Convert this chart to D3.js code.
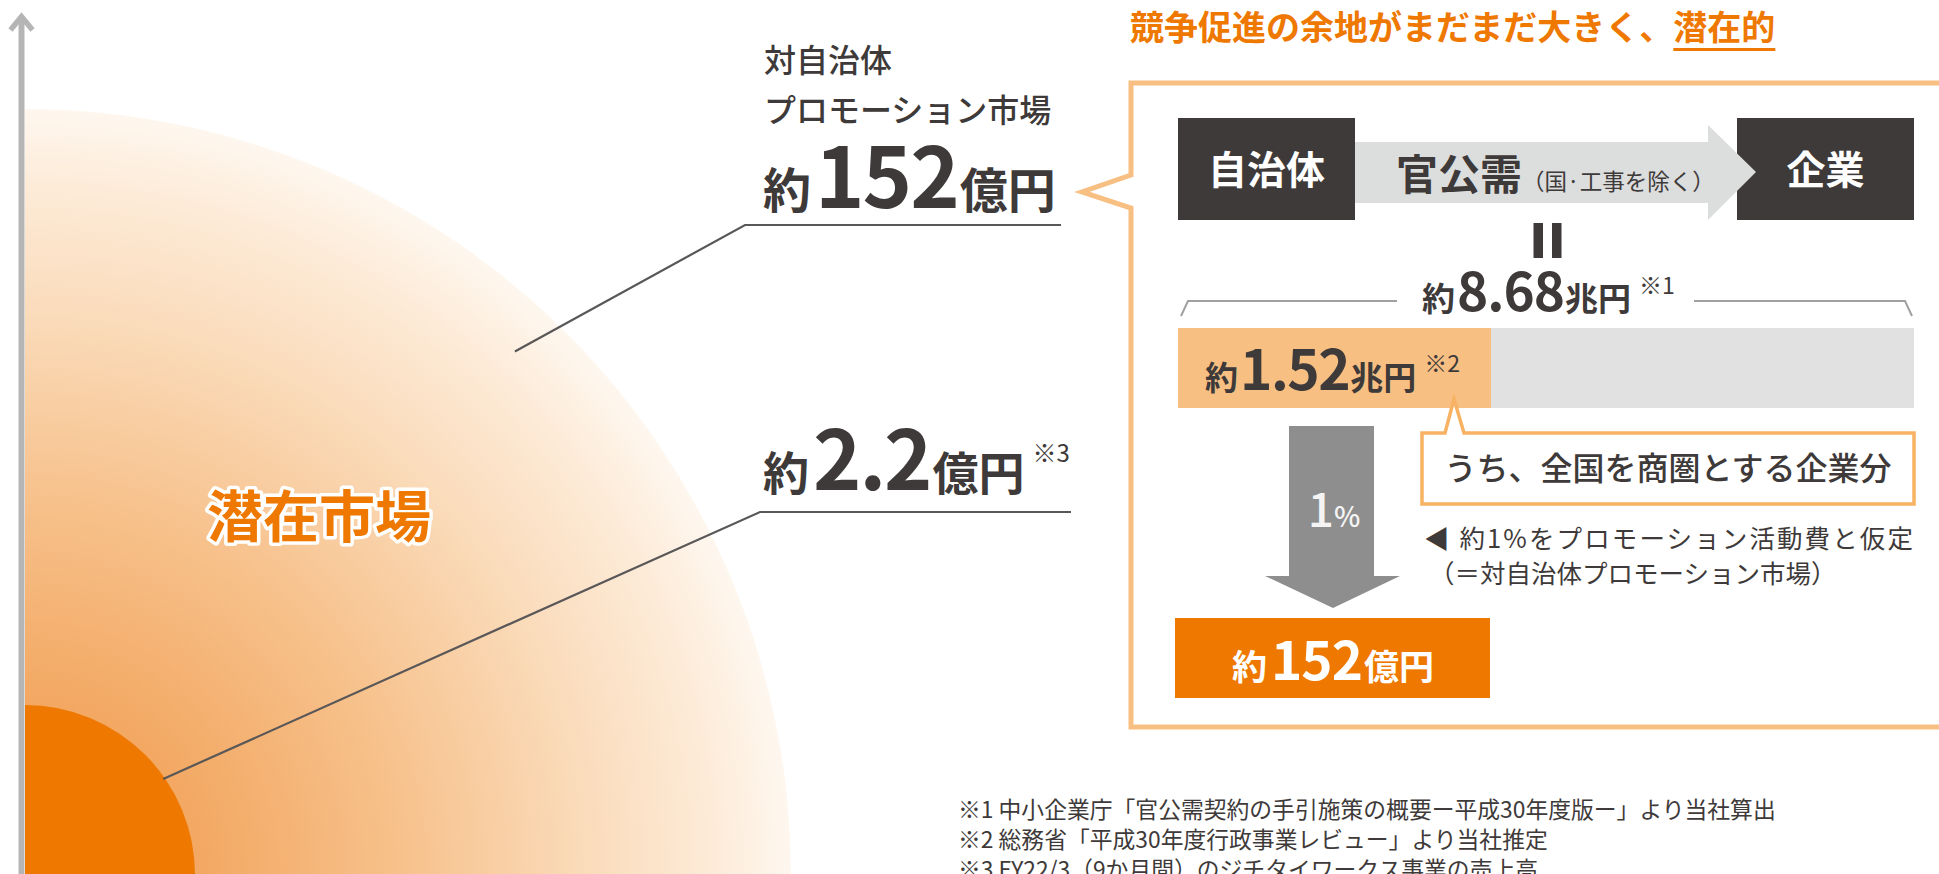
<!DOCTYPE html>
<html lang="ja">
<head>
<meta charset="utf-8">
<script src="https://cdn.jsdelivr.net/npm/d3@7"></script>
<style>
  html, body { margin: 0; padding: 0; background: #fff; overflow: hidden; }
  svg { display: block; }
  text { font-family: "Noto Sans CJK JP", "Noto Sans", sans-serif; }
</style>
</head>
<body>
<svg id="chart" width="1939" height="874"></svg>
<script>
// ---------- data ----------
const circleLabels = ["潜在市場", "対自治体プロモーション市場", "ジチタイワークス売上高"];
const circleValues = [152, 2.2];             // 億円 (outer, inner)
const circleUnits  = ["億円", "億円"];
const noteMarks    = ["", "※3"];
const flowNodes    = ["自治体", "官公需", "企業"];
const flowSub      = "（国·工事を除く）";
const totalValue   = 8.68;                   // 兆円
const partValue    = 1.52;                   // 兆円
const promoRate    = 1;                      // %
const promoValue   = 152;                    // 億円
const titleText    = "競争促進の余地がまだまだ大きく、潜在的";
const calloutText  = "うち、全国を商圏とする企業分";
const assumeLines  = ["◀ 約1%をプロモーション活動費と仮定", "（＝対自治体プロモーション市場）"];
const footnotes    = [
  "※1 中小企業庁「官公需契約の手引施策の概要ー平成30年度版ー」より当社算出",
  "※2 総務省「平成30年度行政事業レビュー」より当社推定",
  "※3 FY22/3（9か月間）のジチタイワークス事業の売上高"
];

// ---------- setup ----------
const svg = d3.select("#chart");
const DARK = "#3e3a39", ORANGE = "#ee7800", LIGHTOR = "#f8bf82";

const defs = svg.append("defs");
const origin = { x: 25, y: 875 };
const rScale = d3.scaleLinear().domain([2.2, 152]).range([170, 766]);

const grad = defs.append("radialGradient").attr("id", "mk")
  .attr("gradientUnits", "userSpaceOnUse")
  .attr("cx", 0).attr("cy", 0).attr("r", rScale(152));
[[0, "#f09a45"], [0.25, "#f3aa66"], [0.5, "#f7c28d"], [0.72, "#fadab8"], [0.9, "#fdebd8"], [1, "#fef7ef"]]
  .forEach(([o, c]) => grad.append("stop").attr("offset", o).attr("stop-color", c));

// ---------- circles (quarter) ----------
const arc = d3.arc().innerRadius(0).startAngle(0).endAngle(Math.PI / 2);
const g = svg.append("g").attr("transform", `translate(${origin.x},${origin.y})`);
g.selectAll("path.circ").data(circleValues).join("path")
  .attr("class", "circ")
  .attr("d", d => arc.outerRadius(rScale(d))())
  .attr("fill", (d, i) => i === 0 ? "url(#mk)" : ORANGE);

// axis with arrow
svg.append("line").attr("x1", 21.5).attr("x2", 21.5).attr("y1", 16).attr("y2", 874)
  .attr("stroke", "#b5b5b5").attr("stroke-width", 6);
svg.append("polyline").attr("points", "10.5,30 21.5,16.5 32.5,30")
  .attr("fill", "none").attr("stroke", "#b5b5b5").attr("stroke-width", 5.5);

// "潜在市場"
svg.append("text").attr("x", 319).attr("y", 537).attr("text-anchor", "middle")
  .attr("font-size", 56).attr("font-weight", 700).attr("fill", ORANGE)
  .attr("stroke", "#fff").attr("stroke-width", 7).attr("paint-order", "stroke")
  .attr("stroke-linejoin", "round").text(circleLabels[0]);

// leader lines
const leaders = [
  { frac: 0.936, ang: 46.9, corner: [745, 225], end: 1061 },
  { frac: 0.99, ang: 34.8, corner: [760, 512], end: 1071 }
];
leaders.forEach((l, i) => {
  const r = rScale(circleValues[i]) * l.frac, a = l.ang * Math.PI / 180;
  const sx = origin.x + r * Math.cos(a), sy = origin.y - r * Math.sin(a);
  svg.append("path").attr("d", `M${sx},${sy}L${l.corner[0]},${l.corner[1]}H${l.end}`)
    .attr("fill", "none").attr("stroke", "#595757").attr("stroke-width", 2.2);
});

// labels on left
const lab = svg.append("g").attr("fill", DARK);
lab.append("text").attr("x", 764).attr("y", 72).attr("font-size", 32).attr("font-weight", 500).text("対自治体");
lab.append("text").attr("x", 764).attr("y", 122).attr("font-size", 32).attr("font-weight", 500).text("プロモーション市場");
function valueLabel(x, y, v, unit, note, big, small) {
  const t = lab.append("text").attr("x", x).attr("y", y).attr("font-weight", 700);
  t.append("tspan").attr("font-size", small).text("約");
  t.append("tspan").attr("font-size", big).attr("dx", 4).attr("letter-spacing", -2).text(v);
  t.append("tspan").attr("font-size", small).attr("dx", 2).text(unit);
  if (note) t.append("tspan").attr("font-size", 24).attr("font-weight", 400).attr("dx", 8).attr("dy", -28).text(note);
}
valueLabel(763, 208, String(circleValues[0]), circleUnits[0], noteMarks[0], 84, 48);
valueLabel(763, 490, String(circleValues[1]), circleUnits[1], noteMarks[1], 82, 46);

// ---------- title ----------
const title = svg.append("text").attr("x", 1130).attr("y", 40).attr("font-size", 34)
  .attr("font-weight", 700).attr("fill", ORANGE).text(titleText);
const tNode = title.node();
const n = titleText.length;
const ux0 = tNode.getStartPositionOfChar(n - 3).x, ux1 = tNode.getEndPositionOfChar(n - 1).x;
svg.append("line").attr("x1", ux0).attr("x2", ux1).attr("y1", 49.5).attr("y2", 49.5)
  .attr("stroke", ORANGE).attr("stroke-width", 3);

// ---------- callout box ----------
svg.append("path")
  .attr("d", "M1131,175 L1082,192 L1131,208 L1131,727 L1950,727 L1950,83 L1131,83 Z")
  .attr("fill", "#fff").attr("stroke", LIGHTOR).attr("stroke-width", 5).attr("stroke-linejoin", "miter");

// flow: 自治体 -> 官公需 -> 企業
const nodeX = d3.scaleOrdinal().domain([flowNodes[0], flowNodes[2]]).range([1178, 1737]);
[flowNodes[0], flowNodes[2]].forEach(nm => {
  svg.append("rect").attr("x", nodeX(nm)).attr("y", 118).attr("width", 177).attr("height", 102).attr("fill", DARK);
  svg.append("text").attr("x", nodeX(nm) + 88.5).attr("y", 184).attr("text-anchor", "middle")
    .attr("font-size", 39).attr("font-weight", 700).attr("fill", "#fff").text(nm);
});
svg.append("path")
  .attr("d", "M1355,142 H1708 V125 L1756,172 L1708,220 V203 H1355 Z")
  .attr("fill", "#dcdddd");
const mid = svg.append("text").attr("x", 1396).attr("y", 190).attr("fill", DARK);
mid.append("tspan").attr("font-size", 42).attr("font-weight", 700).text(flowNodes[1]);
mid.append("tspan").attr("font-size", 22.5).attr("font-weight", 400).attr("dx", 0).text(flowSub);

// equals (vertical)
[1533.5, 1552].forEach(x => svg.append("rect").attr("x", x).attr("y", 223).attr("width", 9.5).attr("height", 35).attr("fill", DARK));

// total label + bracket
const tot = svg.append("text").attr("x", 1422).attr("y", 311).attr("fill", DARK).attr("font-weight", 700);
tot.append("tspan").attr("font-size", 33).text("約");
tot.append("tspan").attr("font-size", 53).attr("dx", 2).attr("letter-spacing", -1).text(totalValue.toFixed(2));
tot.append("tspan").attr("font-size", 33).attr("dx", 1).text("兆円");
tot.append("tspan").attr("font-size", 23).attr("font-weight", 400).attr("dx", 8).attr("dy", -17).text("※1");
svg.append("path").attr("d", "M1181,316 L1188,301 H1397 M1694,301 H1905 L1912,316")
  .attr("fill", "none").attr("stroke", "#a0a0a0").attr("stroke-width", 2);

// stacked bar
const xBar = d3.scaleLinear().domain([0, partValue, totalValue]).range([1178, 1491, 1914]);
const barSegs = [[0, partValue, LIGHTOR], [partValue, totalValue, "#e0e1e0"]];
svg.selectAll("rect.seg").data(barSegs).join("rect").attr("class", "seg")
  .attr("x", d => xBar(d[0])).attr("width", d => xBar(d[1]) - xBar(d[0]))
  .attr("y", 328).attr("height", 80).attr("fill", d => d[2]);
const part = svg.append("text").attr("x", 1205).attr("y", 390).attr("fill", DARK).attr("font-weight", 700);
part.append("tspan").attr("font-size", 33).text("約");
part.append("tspan").attr("font-size", 55).attr("dx", 2).attr("letter-spacing", -1.5).text(partValue.toFixed(2));
part.append("tspan").attr("font-size", 33).attr("dx", 1).text("兆円");
part.append("tspan").attr("font-size", 23).attr("font-weight", 400).attr("dx", 8).attr("dy", -18).text("※2");

// callout with pointer
svg.append("path")
  .attr("d", "M1422,433 H1445 L1454,399 L1464,433 H1914 V504 H1422 Z")
  .attr("fill", "#fff").attr("stroke", "#f8b263").attr("stroke-width", 3.5);
svg.append("text").attr("x", 1668).attr("y", 480).attr("text-anchor", "middle")
  .attr("font-size", 32).attr("font-weight", 500).attr("fill", DARK).text(calloutText);

// down arrow
svg.append("path")
  .attr("d", "M1289,426 H1374 V576 H1400 L1333,608 L1265,576 H1289 Z")
  .attr("fill", "#8e8e8e");
const pct = svg.append("text").attr("x", 1334).attr("y", 527).attr("text-anchor", "middle")
  .attr("fill", "#f4f4f4").attr("font-weight", 500);
pct.append("tspan").attr("font-size", 46).text(promoRate);
pct.append("tspan").attr("font-size", 28).text("%");

// assumption text
assumeLines.forEach((s, i) => {
  const t = svg.append("text").attr("x", i === 0 ? 1424 : 1429).attr("y", 548 + i * 35)
    .attr("font-size", 25.5).attr("font-weight", 400).attr("fill", DARK).text(s);
  if (i === 0) t.attr("textLength", 489).attr("lengthAdjust", "spacing");
});

// result box
svg.append("rect").attr("x", 1175).attr("y", 618).attr("width", 315).attr("height", 80).attr("fill", ORANGE);
const res = svg.append("text").attr("x", 1333).attr("y", 680).attr("text-anchor", "middle")
  .attr("fill", "#fff").attr("font-weight", 700);
res.append("tspan").attr("font-size", 35).text("約");
res.append("tspan").attr("font-size", 53).attr("dx", 4).attr("letter-spacing", -1).text(promoValue);
res.append("tspan").attr("font-size", 35).attr("dx", 2).text("億円");

// footnotes
footnotes.forEach((s, i) => {
  svg.append("text").attr("x", 958).attr("y", 818 + i * 30)
    .attr("font-size", 22.8).attr("font-weight", 400).attr("fill", DARK).text(s);
});
</script>
</body>
</html>
